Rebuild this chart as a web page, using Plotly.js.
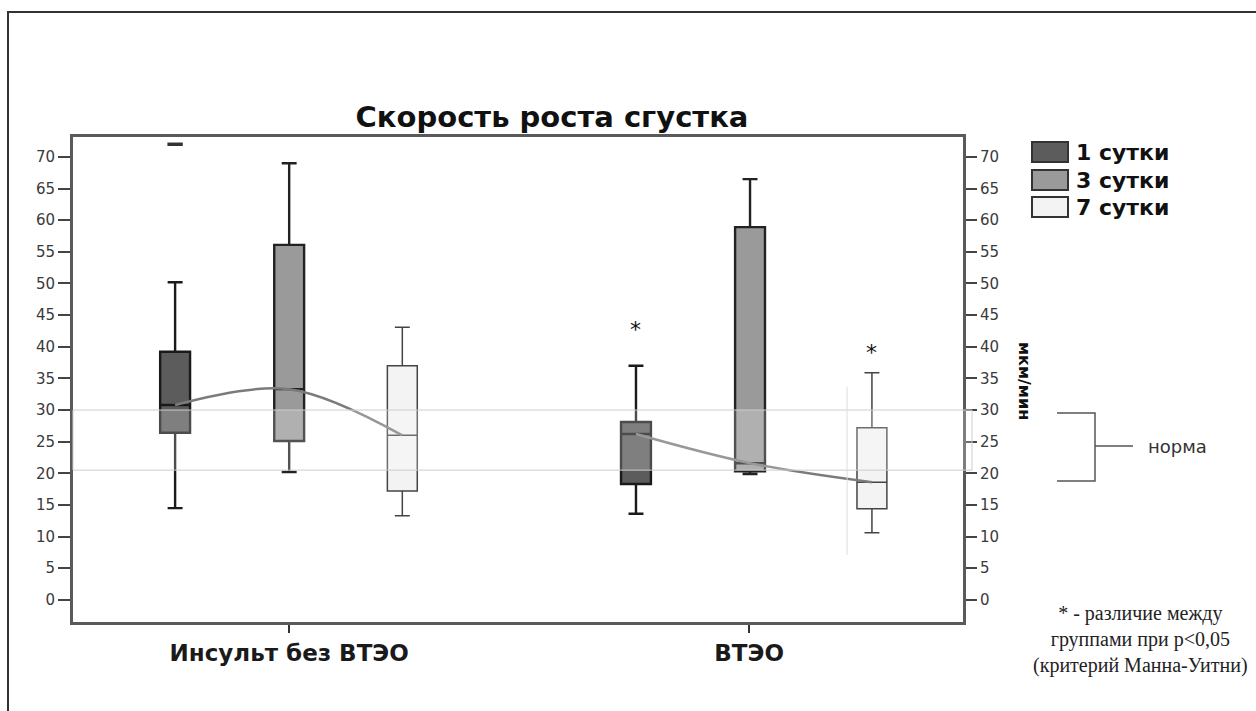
<!DOCTYPE html>
<html><head><meta charset="utf-8">
<script src="https://cdn.plot.ly/plotly-3.0.1.min.js"></script>
<style>html,body{margin:0;padding:0;background:#fff;} #chart{width:1256px;height:711px;}</style>
</head><body><div id="chart"></div>
<script>
// ---- data ----
const groups = ['Инсульт без ВТЭО', 'ВТЭО'];
const seriesNames = ['1 сутки', '3 сутки', '7 сутки'];

const day1Lower  = [14.5, 13.6];
const day1Q1     = [26.4, 18.3];
const day1Median = [30.8, 26.2];
const day1Q3     = [39.2, 28.1];
const day1Upper  = [50.2, 37.0];

const day3Lower  = [20.2, 19.9];
const day3Q1     = [25.1, 20.3];
const day3Median = [33.3, 21.6];
const day3Q3     = [56.1, 58.9];
const day3Upper  = [69.0, 66.5];

const day7Lower  = [13.3, 10.6];
const day7Q1     = [17.2, 14.4];
const day7Median = [26.0, 18.6];
const day7Q3     = [37.0, 27.2];
const day7Upper  = [43.1, 35.9];

const outlierGroup = [0];      // group index
const outlierSeries = [0];     // series index
const outlierValue = [72];

const sigGroup = [1, 1];
const sigSeries = [0, 2];
const sigValue = [43.4, 39.8];

const normRange = [20.5, 30];
const yTicks = [0,5,10,15,20,25,30,35,40,45,50,55,60,65,70];

// ---- layout helpers ----
const W = 1256, H = 711;
const L = 73, R = 963, T = 137, B = 622;
const px2x = p => (p - L) / (R - L);
const py2y = p => (B - p) / (B - T);

const offsets = [[-0.248, 0, 0.246], [-0.246, 0.002, 0.267]];
const fills = ['#5c5c5c', '#9a9a9a', '#f3f3f3'];
const lineCols = ['#1a1a1a', '#222222', '#444444'];
const lineW = [2.4, 2.4, 1.5];

const stats = [
  [day1Lower, day1Q1, day1Median, day1Q3, day1Upper],
  [day3Lower, day3Q1, day3Median, day3Q3, day3Upper],
  [day7Lower, day7Q1, day7Median, day7Q3, day7Upper]
];
const pos = (g, s) => g + offsets[g][s];

const traces = [];
// median-connecting curves
groups.forEach((g, gi) => {
  traces.push({
    type: 'scatter', mode: 'lines',
    x: seriesNames.map((_, si) => pos(gi, si)),
    y: stats.map(st => st[2][gi]),
    line: {shape: 'spline', color: '#7b7b7b', width: 2.5},
    hoverinfo: 'skip', showlegend: false
  });
});
stats.forEach((st, si) => {
  traces.push({
    type: 'box', name: seriesNames[si],
    x: groups.map((_, gi) => pos(gi, si)),
    lowerfence: st[0], q1: st[1], median: st[2], q3: st[3], upperfence: st[4],
    width: 0.065, whiskerwidth: 0.5,
    fillcolor: fills[si],
    line: {color: lineCols[si], width: lineW[si]},
    boxpoints: false, showlegend: false
  });
});
traces.push({
  type: 'scatter', mode: 'markers',
  x: outlierGroup.map((g, i) => pos(g, outlierSeries[i])),
  y: outlierValue,
  marker: {symbol: 'line-ew-open', size: 11, color: '#333', line: {color: '#333', width: 3.5}},
  showlegend: false, hoverinfo: 'skip', cliponaxis: false
});
traces.push({
  type: 'scatter', mode: 'markers', x: [0], y: [0], yaxis: 'y2',
  marker: {opacity: 0}, hoverinfo: 'skip', showlegend: false
});

const shapes = [
  // outer frame of the figure
  {type: 'rect', xref: 'paper', yref: 'paper', x0: px2x(8), x1: px2x(1400), y0: py2y(12), y1: py2y(800),
   line: {color: '#333', width: 2}, fillcolor: 'rgba(0,0,0,0)', layer: 'above'},
  // norm band
  {type: 'rect', xref: 'paper', yref: 'y', x0: 0, x1: px2x(972), y0: normRange[0], y1: normRange[1],
   fillcolor: 'rgba(255,255,255,0.22)', line: {color: '#cdcdcd', width: 1}, layer: 'above'},
  // faint vertical line
  {type: 'line', xref: 'x', yref: 'y', x0: 1.213, x1: 1.213, y0: 7.1, y1: 33.7,
   line: {color: '#dedede', width: 1}, layer: 'above'},
  // bracket
  {type: 'path', xref: 'paper', yref: 'paper',
   path: `M ${px2x(1057)} ${py2y(413)} L ${px2x(1095)} ${py2y(413)} L ${px2x(1095)} ${py2y(481)} L ${px2x(1057)} ${py2y(481)} M ${px2x(1095)} ${py2y(446)} L ${px2x(1133)} ${py2y(446)}`,
   line: {color: '#555', width: 1.5}}
];
const legY = [[142, 162], [170, 190], [197, 217]];
seriesNames.forEach((n, i) => {
  shapes.push({type: 'rect', xref: 'paper', yref: 'paper',
    x0: px2x(1032), x1: px2x(1068), y0: py2y(legY[i][0]), y1: py2y(legY[i][1]),
    fillcolor: fills[i], line: {color: '#333', width: 2}});
});

const annotations = [];
seriesNames.forEach((n, i) => {
  annotations.push({xref: 'paper', yref: 'paper', x: px2x(1074), y: py2y((legY[i][0] + legY[i][1]) / 2),
    xanchor: 'left', yanchor: 'middle', text: n, showarrow: false,
    font: {family: 'DejaVu Sans', size: 22, weight: 'bold', color: '#111'}});
});
sigGroup.forEach((g, i) => {
  annotations.push({xref: 'x', yref: 'y', x: pos(g, sigSeries[i]), y: sigValue[i],
    text: '*', showarrow: false, yanchor: 'middle', yshift: -4,
    font: {family: 'DejaVu Sans', size: 22, color: '#111'}});
});
annotations.push({xref: 'paper', yref: 'paper', x: px2x(1146), y: py2y(446), xanchor: 'left', yanchor: 'middle',
  text: 'норма', showarrow: false, font: {family: 'DejaVu Sans', size: 18, color: '#333'}});
annotations.push({xref: 'paper', yref: 'paper', x: px2x(1025), y: py2y(381), xanchor: 'center', yanchor: 'middle',
  text: 'мкм/мин', textangle: 90, showarrow: false,
  font: {family: 'DejaVu Sans', size: 16, weight: 'bold', color: '#111'}});
annotations.push({xref: 'paper', yref: 'paper', x: px2x(1140), y: py2y(639), xanchor: 'center', yanchor: 'middle',
  text: '* - различие между<br>группами при р&lt;0,05<br>(критерий Манна-Уитни)', align: 'center', showarrow: false,
  font: {family: 'Liberation Serif', size: 20, color: '#222'}});

const tickFont = {family: 'DejaVu Sans', size: 15, color: '#3a3a3a'};
const layout = {
  width: W, height: H,
  margin: {l: L, r: W - R, t: T, b: H - B, pad: 0},
  paper_bgcolor: '#fff', plot_bgcolor: '#fff',
  showlegend: false,
  boxmode: 'overlay',
  title: {text: 'Скорость роста сгустка', xref: 'container', yref: 'container',
    x: 552 / W, y: 1 - 117 / H, xanchor: 'center', yanchor: 'middle',
    font: {family: 'DejaVu Sans', size: 29, weight: 'bold', color: '#111'}},
  xaxis: {range: [-0.47, 1.465], tickvals: [0, 1], ticktext: groups,
    showline: true, linecolor: '#5a5a5a', linewidth: 3, mirror: true,
    ticks: 'outside', ticklen: 8, tickwidth: 2, tickcolor: '#333',
    tickfont: {family: 'DejaVu Sans', size: 23, weight: 'bold', color: '#1a1a1a'},
    showgrid: false, zeroline: false, fixedrange: true},
  yaxis: {range: [-3.5, 73.15], tickvals: yTicks,
    showline: true, linecolor: '#5a5a5a', linewidth: 3,
    ticks: 'outside', ticklen: 12, tickwidth: 2, tickcolor: '#444',
    tickfont: tickFont, showgrid: false, zeroline: false, fixedrange: true},
  yaxis2: {range: [-3.5, 73.15], tickvals: yTicks, overlaying: 'y', side: 'right', anchor: 'x',
    showline: true, linecolor: '#5a5a5a', linewidth: 3,
    ticks: 'outside', ticklen: 11, tickwidth: 2, tickcolor: '#444',
    tickfont: tickFont, showgrid: false, zeroline: false, fixedrange: true},
  shapes: shapes,
  annotations: annotations
};
Plotly.newPlot('chart', traces, layout, {displayModeBar: false, staticPlot: true});
</script>
</body></html>
